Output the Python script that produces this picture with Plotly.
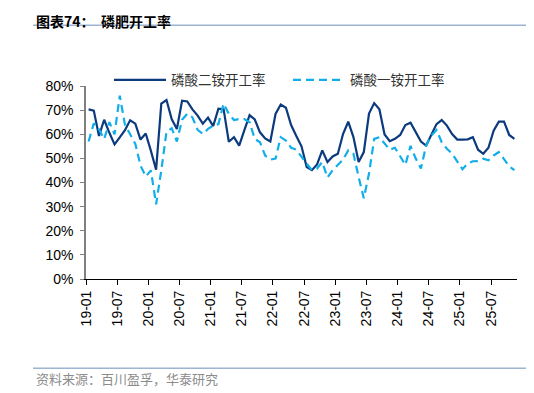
import plotly.graph_objects as go

# ---- data (monthly, 2019-01 .. 2025-11) ----
tick_labels = ["19-01", "19-07", "20-01", "20-07", "21-01", "21-07", "22-01",
               "22-07", "23-01", "23-07", "24-01", "24-07", "25-01", "25-07"]

dap_rate = [70.3, 69.8, 59.3, 66.0, 60.6, 55.8, 58.7, 61.7, 65.8, 64.4,
            57.8, 60.3, 53.1, 45.3, 72.7, 74.2, 66.3, 62.2, 73.9, 73.6,
            70.3, 67.7, 64.4, 66.9, 63.4, 70.6, 70.4, 56.9, 58.8, 55.3,
            61.7, 67.9, 66.1, 60.8, 58.3, 57.0, 68.4, 72.3, 71.0, 63.8,
            59.3, 55.0, 46.4, 45.1, 47.5, 53.3, 48.5, 50.8, 51.9, 60.1,
            65.2, 58.8, 48.5, 52.6, 68.6, 72.9, 70.4, 59.9, 57.1, 58.1,
            59.7, 63.8, 64.8, 61.2, 57.0, 55.3, 60.1, 64.2, 65.9, 63.6,
            60.1, 57.8, 57.8, 57.9, 58.8, 53.6, 51.9, 54.4, 61.5, 65.2,
            65.2, 59.7, 58.1]

map_rate = [57.0, 64.5, 62.0, 58.0, 65.0, 60.0, 76.0, 64.0, 60.0, 56.0,
            47.0, 42.5, 45.0, 31.0, 45.0, 61.0, 62.5, 57.0, 66.0, 68.5,
            67.0, 61.8, 60.1, 62.2, 63.6, 64.2, 72.7, 68.4, 65.9, 66.3,
            66.3, 65.0, 58.1, 56.7, 51.2, 49.5, 49.9, 58.8, 57.4, 54.4,
            53.6, 50.5, 47.8, 45.1, 45.8, 48.5, 42.1, 45.1, 47.1, 49.5,
            53.3, 51.9, 42.3, 33.5, 43.7, 58.1, 58.8, 56.3, 53.6, 54.4,
            50.8, 47.3, 55.2, 49.9, 45.8, 55.3, 59.5, 61.8, 56.7, 54.0,
            51.9, 48.9, 45.5, 47.8, 48.8, 48.9, 49.9, 49.2, 51.2, 52.6,
            49.9, 46.7, 45.1]

series_names = ["磷酸二铵开工率", "磷酸一铵开工率"]

n = len(dap_rate)
x_pos = [i + 0.5 for i in range(n)]
tick_pos = [6 * i for i in range(len(tick_labels))]

fig = go.Figure()
fig.add_trace(go.Scatter(
    x=x_pos, y=[v / 100 for v in dap_rate], name=series_names[0],
    mode="lines", line=dict(color="#0B3A7D", width=2.2)))
fig.add_trace(go.Scatter(
    x=x_pos, y=[v / 100 for v in map_rate], name=series_names[1],
    mode="lines", line=dict(color="#12AEEA", width=2.2, dash="8px,5px")))

# page body has an 8px margin, so lay out in reference pixels minus OFF
OFF = 8
W, H = 534, 393
px_left, px_right, px_top, px_bot = 86, 517, 86, 279.5   # plot box in reference px
L = px_left - OFF
R = W - (px_right - OFF)
T = px_top - OFF
B = H - (px_bot - OFF)


def xp(px):  # reference pixel x -> paper
    return (px - px_left) / (px_right - px_left)


def yp(py):  # reference pixel y -> paper
    return (px_bot - py) / (px_bot - px_top)


fig.update_layout(
    width=W, height=H,
    margin=dict(l=L, r=R, t=T, b=B, pad=0, autoexpand=False),
    paper_bgcolor="white", plot_bgcolor="white",
    font=dict(family="Liberation Sans, Arial, sans-serif", size=14, color="#000000"),
    showlegend=True,
    legend=dict(
        orientation="h", x=xp(109), xanchor="left",
        y=yp(80), yanchor="middle",
        font=dict(family="Noto Sans CJK SC", size=13.5, color="#333333"),
        entrywidth=112, entrywidthmode="pixels",
        bgcolor="rgba(0,0,0,0)", itemwidth=52,
    ),
    xaxis=dict(
        range=[0, n], tickmode="array", tickvals=tick_pos, ticktext=tick_labels,
        tickangle=-90, ticks="outside", ticklen=5, tickcolor="#000000",
        showline=True, linecolor="#000000", linewidth=1,
        showgrid=False, zeroline=False,
        tickfont=dict(family="Liberation Sans, Arial", size=14, color="#000000"),
        fixedrange=True, automargin=False,
    ),
    yaxis=dict(
        range=[0, 0.8], tickvals=[i / 10 for i in range(9)], tickformat=".0%",
        ticks="outside", ticklen=4, tickcolor="#808080",
        showline=True, linecolor="#808080", linewidth=1.5,
        showgrid=False, zeroline=False, ticklabelstandoff=4,
        tickfont=dict(family="Liberation Sans, Arial", size=14, color="#000000"),
        fixedrange=True, automargin=False,
    ),
    shapes=[
        dict(type="line", xref="paper", yref="paper",
             x0=xp(33), x1=xp(534 + OFF), y0=yp(25), y1=yp(25),
             line=dict(color="#9DB4D2", width=1.5)),
        dict(type="line", xref="paper", yref="paper",
             x0=xp(33), x1=xp(534 + OFF), y0=yp(369), y1=yp(369),
             line=dict(color="#9DB4D2", width=1.5)),
    ],
    annotations=[
        dict(text="<b>图表74：  磷肥开工率</b>", xref="paper", yref="paper",
             x=xp(34), y=yp(8), yshift=-1,
             xanchor="left", yanchor="top", showarrow=False,
             font=dict(family="Noto Sans CJK SC", size=14, color="#000000")),
        dict(text="资料来源：百川盈孚，华泰研究", xref="paper", yref="paper",
             x=xp(34), y=yp(379),
             xanchor="left", yanchor="middle", showarrow=False,
             font=dict(family="Noto Sans CJK SC", size=13, color="#8C8C8C")),
    ],
)

fig.write_html("out.html")
